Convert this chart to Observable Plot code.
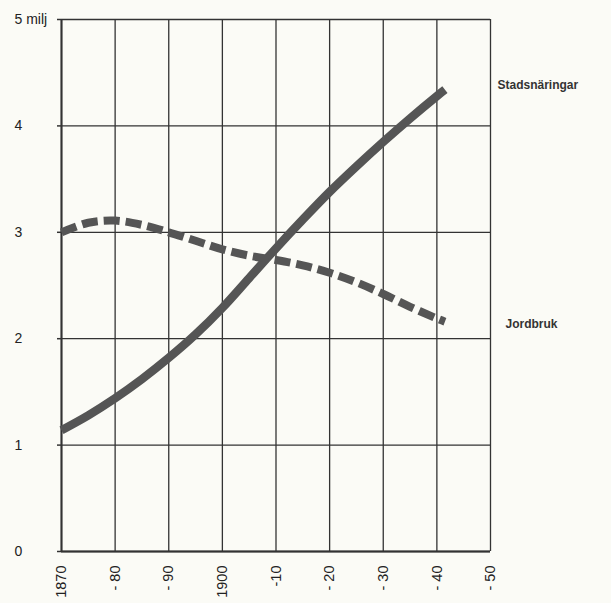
<!DOCTYPE html>
<html><head><meta charset="utf-8">
<script src="https://cdn.jsdelivr.net/npm/d3@7"></script>
<script src="https://cdn.jsdelivr.net/npm/@observablehq/plot@0.6"></script>
<style>
body{margin:0;background:#fbfbf6;}
#chart svg{background:#fbfbf6;}
</style></head><body><div id="chart"></div>
<script>
const stadsYears = [1870, 1875, 1880, 1885, 1890, 1895, 1900, 1905, 1910, 1915, 1920, 1925, 1930, 1935, 1940, 1941.5];
const stadsValues = [1.14, 1.28, 1.44, 1.62, 1.82, 2.04, 2.29, 2.57, 2.85, 3.12, 3.38, 3.62, 3.85, 4.07, 4.28, 4.34];
const jordYears = [1870, 1875, 1880, 1885, 1890, 1895, 1900, 1905, 1910, 1915, 1920, 1925, 1930, 1935, 1940, 1941.5];
const jordValues = [3.0, 3.09, 3.11, 3.07, 3.0, 2.92, 2.84, 2.78, 2.74, 2.69, 2.62, 2.53, 2.42, 2.3, 2.19, 2.16];
const xTicks = [1870, 1880, 1890, 1900, 1910, 1920, 1930, 1940, 1950];
const xTickLabels = ["1870", "- 80", "- 90", "1900", "-10", "- 20", "- 30", "- 40", "- 50"];
const yTicks = [0, 1, 2, 3, 4, 5];
const yTickLabels = ["0", "1", "2", "3", "4", "5 milj"];
const seriesNames = ["Stadsnäringar", "Jordbruk"];
const seriesLabelY = [4.38, 2.14];

const stads = stadsYears.map((y, i) => ({year: y, value: stadsValues[i]}));
const jord = jordYears.map((y, i) => ({year: y, value: jordValues[i]}));
const ink = "#333";

const chart = Plot.plot({
  width: 611, height: 603,
  marginLeft: 61, marginRight: 121, marginTop: 19, marginBottom: 52,
  style: {fontFamily: "'Liberation Sans', Arial, sans-serif", background: "#fbfbf6"},
  x: {domain: [1870, 1950]},
  y: {domain: [0, 5]},
  marks: [
    Plot.gridX(xTicks, {stroke: ink, strokeOpacity: 1, strokeWidth: 1.3}),
    Plot.gridY(yTicks, {stroke: ink, strokeOpacity: 1, strokeWidth: 1.3}),
    Plot.ruleX([1870], {stroke: ink, strokeWidth: 2}),
    Plot.ruleY([0], {stroke: ink, strokeWidth: 2}),
    Plot.axisY(yTicks, {tickFormat: () => "", tickSize: 4, stroke: ink, strokeWidth: 1.5, label: null}),
    Plot.axisY(yTicks, {tickFormat: (d, i) => yTickLabels[i], tickSize: 0,
      textAnchor: "start", dx: -38, fontSize: 14, fill: "#222", label: null}),
    Plot.axisX(xTicks, {tickFormat: (d, i) => xTickLabels[i], tickSize: 0, tickRotate: -90,
      tickPadding: 14, fontSize: 14.5, fill: "#222", label: null}),
    Plot.line(stads, {x: "year", y: "value", curve: "catmull-rom", stroke: "#555",
      strokeWidth: 8.5, strokeLinecap: "butt"}),
    Plot.line(jord, {x: "year", y: "value", curve: "catmull-rom", stroke: "#555",
      strokeWidth: 8, strokeDasharray: "16,6", strokeLinecap: "butt"}),
    Plot.text([seriesNames[0]], {x: 1950, y: [seriesLabelY[0]], text: d => d, dx: 7, textAnchor: "start",
      fontSize: 12, fontWeight: "bold", fill: "#333"}),
    Plot.text([seriesNames[1]], {x: 1950, y: [seriesLabelY[1]], text: d => d, dx: 15, textAnchor: "start",
      fontSize: 12, fontWeight: "bold", fill: "#333"})
  ]
});
document.getElementById("chart").appendChild(chart);
</script></body></html>
